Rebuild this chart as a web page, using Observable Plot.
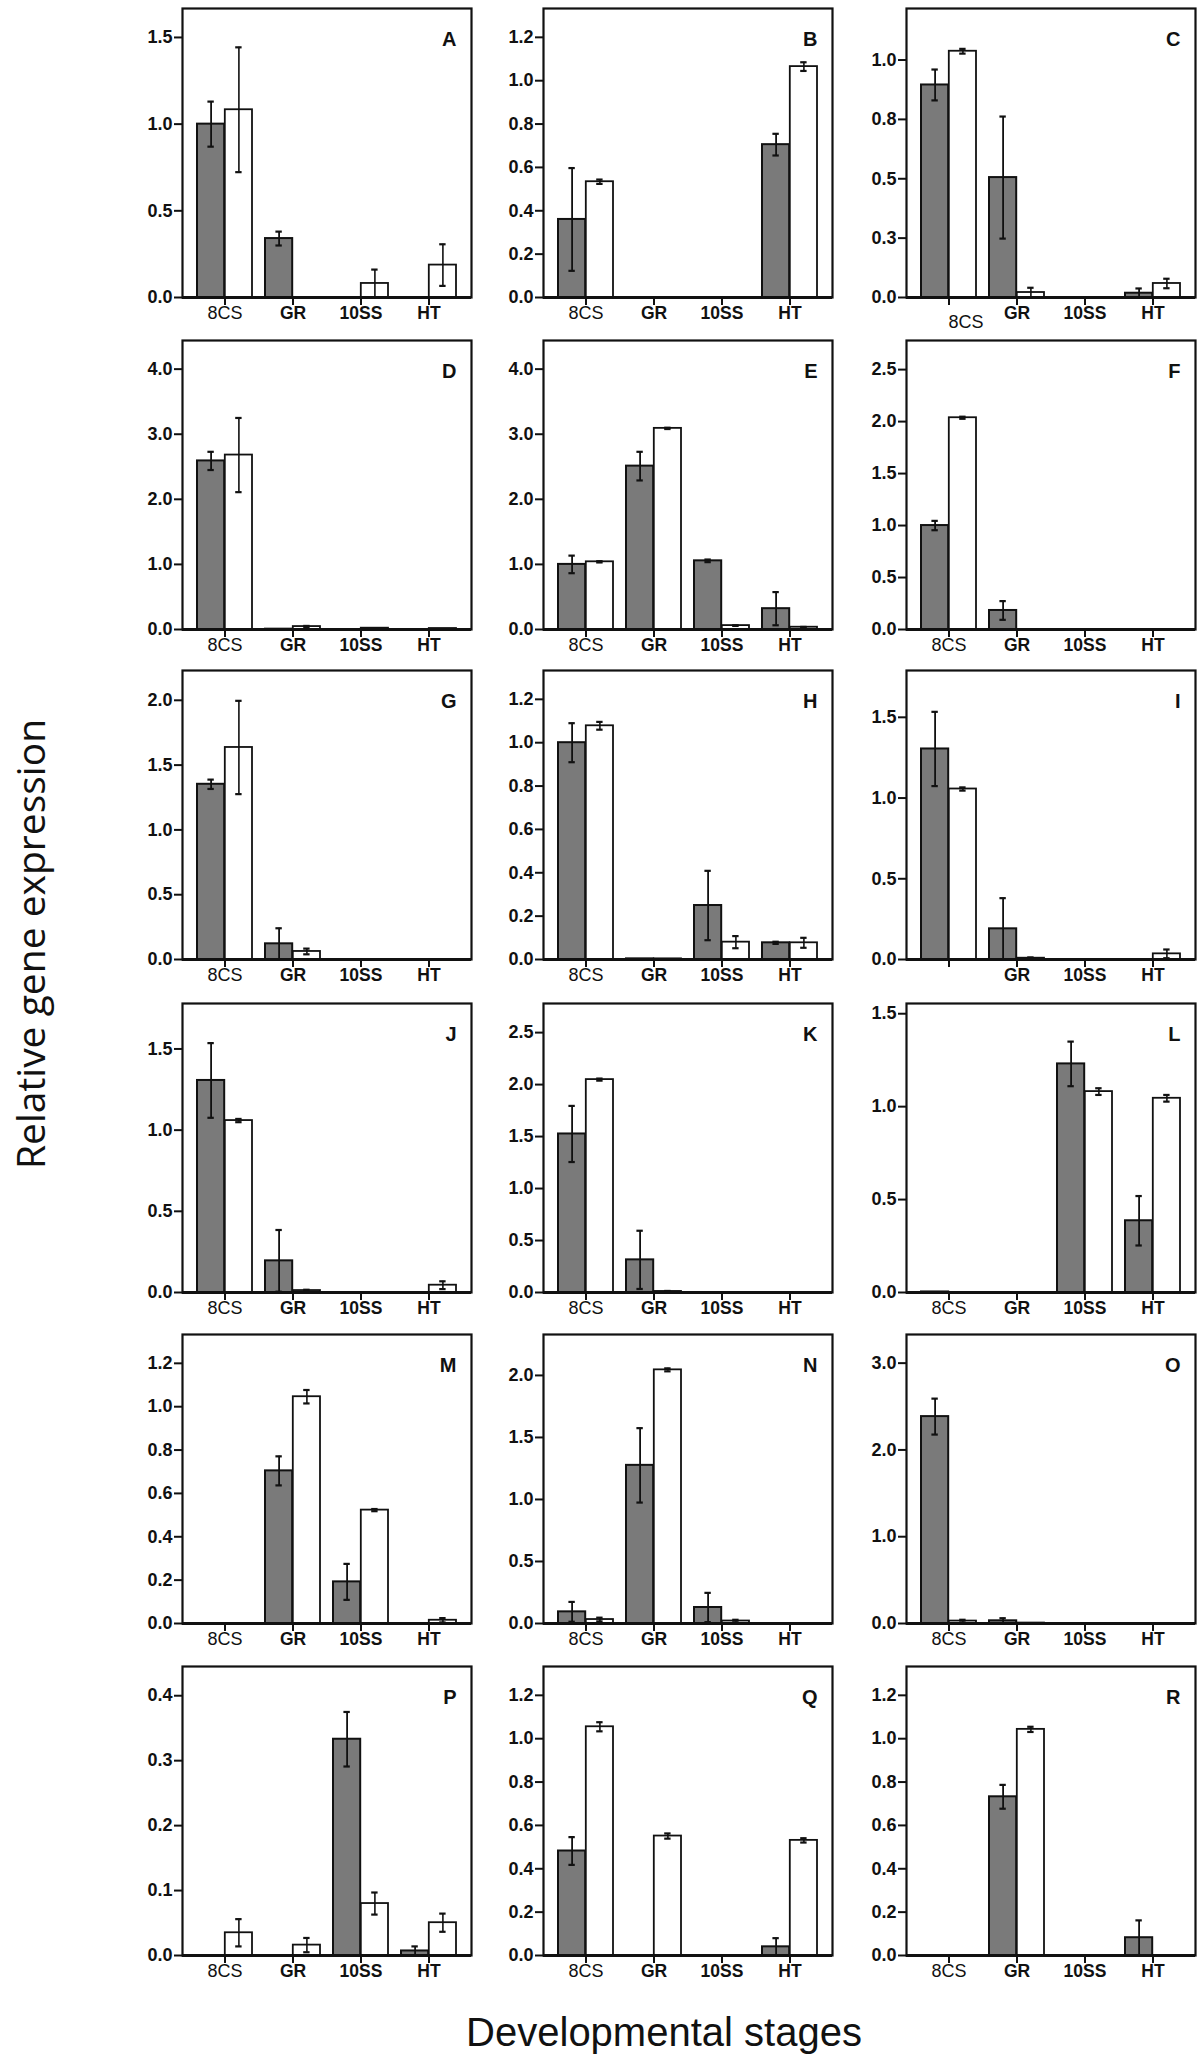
<!DOCTYPE html>
<html>
<head>
<meta charset="utf-8">
<script src="https://cdn.jsdelivr.net/npm/d3@7"></script>
<script src="https://cdn.jsdelivr.net/npm/@observablehq/plot@0.6"></script>
<style>
  html, body { margin: 0; padding: 0; background: #fff; }
  #root { position: relative; width: 1200px; height: 2066px; background: #fff; overflow: hidden; color: #111; }
  .panel { position: absolute; }
  .ytitle { position: absolute; left: 29px; top: 944px; transform: translate(-50%, -50%) rotate(-90deg);
    font-family: 'Open Sans', 'Noto Sans', sans-serif; font-size: 39px; white-space: nowrap; color: #111; }
  .xtitle { position: absolute; left: 664px; top: 2032px; transform: translate(-50%, -50%);
    font-family: 'Liberation Sans', Arial, sans-serif; font-size: 40px; white-space: nowrap; color: #111; }
</style>
</head>
<body>
<div id="root">
  <div class="ytitle">Relative gene expression</div>
  <div class="xtitle">Developmental stages</div>
</div>
<script>
// ---------- data ----------
const stages = ["8CS", "GR", "10SS", "HT"];
const panelLetters = ["A","B","C","D","E","F","G","H","I","J","K","L","M","N","O","P","Q","R"];

// grey (filled) bars: mean and error, per panel, per stage
const greyMean = [
  [1.00, 0.34, 0, 0],
  [0.36, 0, 0, 0.705],
  [0.895, 0.505, 0, 0.018],
  [2.59, 0.005, 0, 0],
  [1.00, 2.51, 1.055, 0.32],
  [1.00, 0.183, 0, 0],
  [1.352, 0.121, 0, 0],
  [1.00, 0.003, 0.249, 0.077],
  [1.304, 0.19, 0, 0],
  [1.306, 0.195, 0, 0],
  [1.525, 0.314, 0, 0],
  [0.003, 0, 1.23, 0.386],
  [0, 0.704, 0.192, 0],
  [0.094, 1.275, 0.129, 0],
  [2.384, 0.031, 0, 0],
  [0, 0, 0.333, 0.007],
  [0.482, 0, 0, 0.04],
  [0, 0.732, 0, 0.082]
];
const greyErr = [
  [0.13, 0.04, 0, 0],
  [0.237, 0, 0, 0.05],
  [0.065, 0.257, 0, 0.02],
  [0.14, 0, 0, 0],
  [0.135, 0.22, 0.02, 0.255],
  [0.045, 0.09, 0, 0],
  [0.036, 0.12, 0, 0],
  [0.09, 0, 0.16, 0.005],
  [0.23, 0.19, 0, 0],
  [0.23, 0.19, 0, 0],
  [0.27, 0.28, 0, 0],
  [0, 0, 0.12, 0.133],
  [0, 0.067, 0.083, 0],
  [0.08, 0.3, 0.118, 0],
  [0.207, 0.03, 0, 0],
  [0, 0, 0.042, 0.007],
  [0.064, 0, 0, 0.04],
  [0, 0.055, 0, 0.08]
];
// white (open) bars
const whiteMean = [
  [1.083, 0, 0.081, 0.187],
  [0.534, 0, 0, 1.065],
  [1.037, 0.021, 0, 0.059],
  [2.68, 0.045, 0.02, 0.015],
  [1.04, 3.09, 0.06, 0.035],
  [2.037, 0, 0, 0],
  [1.636, 0.062, 0, 0],
  [1.078, 0.003, 0.08, 0.077],
  [1.056, 0.008, 0, 0.035],
  [1.059, 0.012, 0, 0.045],
  [2.048, 0.01, 0, 0],
  [0, 0, 1.081, 1.045],
  [0, 1.046, 0.523, 0.015],
  [0.032, 2.045, 0.02, 0],
  [0.028, 0.005, 0, 0],
  [0.035, 0.016, 0.08, 0.0505],
  [1.055, 0.551, 0, 0.531],
  [0, 1.043, 0, 0]
];
const whiteErr = [
  [0.36, 0, 0.08, 0.12],
  [0.01, 0, 0, 0.02],
  [0.01, 0.02, 0, 0.02],
  [0.57, 0.01, 0, 0],
  [0.01, 0.01, 0.005, 0.005],
  [0.01, 0, 0, 0],
  [0.36, 0.022, 0, 0],
  [0.018, 0, 0.028, 0.023],
  [0.01, 0.005, 0, 0.027],
  [0.01, 0.005, 0, 0.024],
  [0.01, 0.005, 0, 0],
  [0, 0, 0.018, 0.018],
  [0, 0.031, 0.005, 0.01],
  [0.015, 0.012, 0.01, 0],
  [0.015, 0, 0, 0],
  [0.021, 0.011, 0.017, 0.014],
  [0.021, 0.012, 0, 0.01],
  [0, 0.012, 0, 0]
];
// y-axis extent and ticks per panel
const yMax = [1.667, 1.333, 1.217, 4.44, 4.44, 2.78, 2.23, 1.333, 1.79, 1.78, 2.78, 1.555, 1.333, 2.33, 3.33, 0.445, 1.333, 1.333];
const yTicks = [
  [0, 0.5, 1, 1.5],
  [0, 0.2, 0.4, 0.6, 0.8, 1.0, 1.2],
  [0, 0.25, 0.5, 0.75, 1.0],
  [0, 1, 2, 3, 4],
  [0, 1, 2, 3, 4],
  [0, 0.5, 1, 1.5, 2, 2.5],
  [0, 0.5, 1, 1.5, 2],
  [0, 0.2, 0.4, 0.6, 0.8, 1.0, 1.2],
  [0, 0.5, 1, 1.5],
  [0, 0.5, 1, 1.5],
  [0, 0.5, 1, 1.5, 2, 2.5],
  [0, 0.5, 1, 1.5],
  [0, 0.2, 0.4, 0.6, 0.8, 1.0, 1.2],
  [0, 0.5, 1, 1.5, 2],
  [0, 1, 2, 3],
  [0, 0.1, 0.2, 0.3, 0.4],
  [0, 0.2, 0.4, 0.6, 0.8, 1.0, 1.2],
  [0, 0.2, 0.4, 0.6, 0.8, 1.0, 1.2]
];
const yTickLabels = [
  ["0.0", "0.5", "1.0", "1.5"],
  ["0.0", "0.2", "0.4", "0.6", "0.8", "1.0", "1.2"],
  ["0.0", "0.3", "0.5", "0.8", "1.0"],
  ["0.0", "1.0", "2.0", "3.0", "4.0"],
  ["0.0", "1.0", "2.0", "3.0", "4.0"],
  ["0.0", "0.5", "1.0", "1.5", "2.0", "2.5"],
  ["0.0", "0.5", "1.0", "1.5", "2.0"],
  ["0.0", "0.2", "0.4", "0.6", "0.8", "1.0", "1.2"],
  ["0.0", "0.5", "1.0", "1.5"],
  ["0.0", "0.5", "1.0", "1.5"],
  ["0.0", "0.5", "1.0", "1.5", "2.0", "2.5"],
  ["0.0", "0.5", "1.0", "1.5"],
  ["0.0", "0.2", "0.4", "0.6", "0.8", "1.0", "1.2"],
  ["0.0", "0.5", "1.0", "1.5", "2.0"],
  ["0.0", "1.0", "2.0", "3.0"],
  ["0.0", "0.1", "0.2", "0.3", "0.4"],
  ["0.0", "0.2", "0.4", "0.6", "0.8", "1.0", "1.2"],
  ["0.0", "0.2", "0.4", "0.6", "0.8", "1.0", "1.2"]
];

// ---------- layout / style ----------
const colLeft = [182, 543, 906];
const rowTop = [8, 340, 670, 1003, 1334, 1666];
const W = 289, H = 289;
const mL = 55, mR = 8, mT = 6, mB = 40;
const padIn = 0.19, padOut = 0.2;
const step = W / (stages.length - padIn + 2 * padOut);
const bw = step * (1 - padIn);
const half = bw / 2, q = bw / 4, cap = 3.5;
const ink = "#111";
const greyFill = "#7a7a7a";
const font = "'Liberation Sans', Arial, sans-serif";

const root = document.getElementById("root");

for (let i = 0; i < 18; i++) {
  const r = Math.floor(i / 3), c = i % 3;
  const grey = stages.map((s, j) => ({stage: s, mean: greyMean[i][j], err: greyErr[i][j]}));
  const white = stages.map((s, j) => ({stage: s, mean: whiteMean[i][j], err: whiteErr[i][j]}));
  const eg = grey.filter(d => d.err > 0);
  const ew = white.filter(d => d.err > 0);
  const lo = d => Math.max(0, d.mean - d.err);
  const hi = d => d.mean + d.err;
  const ticks = yTicks[i], labs = yTickLabels[i];
  const fmt = v => labs[ticks.indexOf(v)];

  // x tick labels: 8CS in regular weight, others bold; I lacks 8CS label; C's is displaced
  const boldLabels = stages.filter(s => s !== "8CS");
  const firstLabel = i === 8 ? [] : ["8CS"];
  const firstDx = i === 2 ? 17 : 0;
  const firstDy = i === 2 ? 30 : 21;

  const chart = Plot.plot({
    width: mL + W + mR,
    height: mT + H + mB,
    marginLeft: mL, marginRight: mR, marginTop: mT, marginBottom: mB,
    style: {background: "transparent", fontFamily: font, overflow: "visible", color: ink},
    x: {domain: stages, paddingInner: padIn, paddingOuter: padOut, align: 0.5},
    y: {domain: [0, yMax[i]]},
    marks: [
      Plot.barY(grey, {x: "stage", y: "mean", fill: greyFill, stroke: ink, strokeWidth: 2, insetRight: half}),
      Plot.barY(white, {x: "stage", y: "mean", fill: "white", stroke: ink, strokeWidth: 1.8, insetLeft: half}),
      Plot.ruleX(eg, {x: "stage", y1: lo, y2: hi, dx: -q, stroke: ink, strokeWidth: 1.8}),
      Plot.tickY(eg, {x: "stage", y: hi, insetLeft: q - cap, insetRight: bw - q - cap, stroke: ink, strokeWidth: 2.2}),
      Plot.tickY(eg, {x: "stage", y: lo, insetLeft: q - cap, insetRight: bw - q - cap, stroke: ink, strokeWidth: 2.2}),
      Plot.ruleX(ew, {x: "stage", y1: lo, y2: hi, dx: q, stroke: ink, strokeWidth: 1.6}),
      Plot.tickY(ew, {x: "stage", y: hi, insetLeft: 3 * q - cap, insetRight: q - cap, stroke: ink, strokeWidth: 2.2}),
      Plot.tickY(ew, {x: "stage", y: lo, insetLeft: 3 * q - cap, insetRight: q - cap, stroke: ink, strokeWidth: 2.2}),
      Plot.frame({stroke: ink, strokeWidth: 2.2}),
      Plot.ruleY([0], {stroke: ink, strokeWidth: 3}),
      Plot.axisY({ticks: ticks, tickFormat: fmt, tickSize: 8, tickPadding: 2, fontSize: 18, fontWeight: "bold", strokeWidth: 2, label: null}),
      Plot.axisX({tickSize: 8, tickFormat: () => "", strokeWidth: 2, label: null}),
      Plot.text(boldLabels, {x: d => d, frameAnchor: "bottom", dy: 21, fontSize: 17.5, fontWeight: "bold", fill: ink}),
      Plot.text(firstLabel, {x: d => d, frameAnchor: "bottom", dx: firstDx, dy: firstDy, fontSize: 18, fontWeight: "normal", fill: ink}),
      Plot.text([panelLetters[i]], {frameAnchor: "top-right", dx: -15, dy: 23, textAnchor: "end", fontSize: 20, fontWeight: "bold", fill: ink})
    ]
  });
  chart.classList.add("panel");
  chart.style.left = (colLeft[c] - mL) + "px";
  chart.style.top = (rowTop[r] - mT) + "px";
  chart.style.position = "absolute";
  chart.style.maxWidth = "none";
  root.appendChild(chart);
}
</script>
</body>
</html>
